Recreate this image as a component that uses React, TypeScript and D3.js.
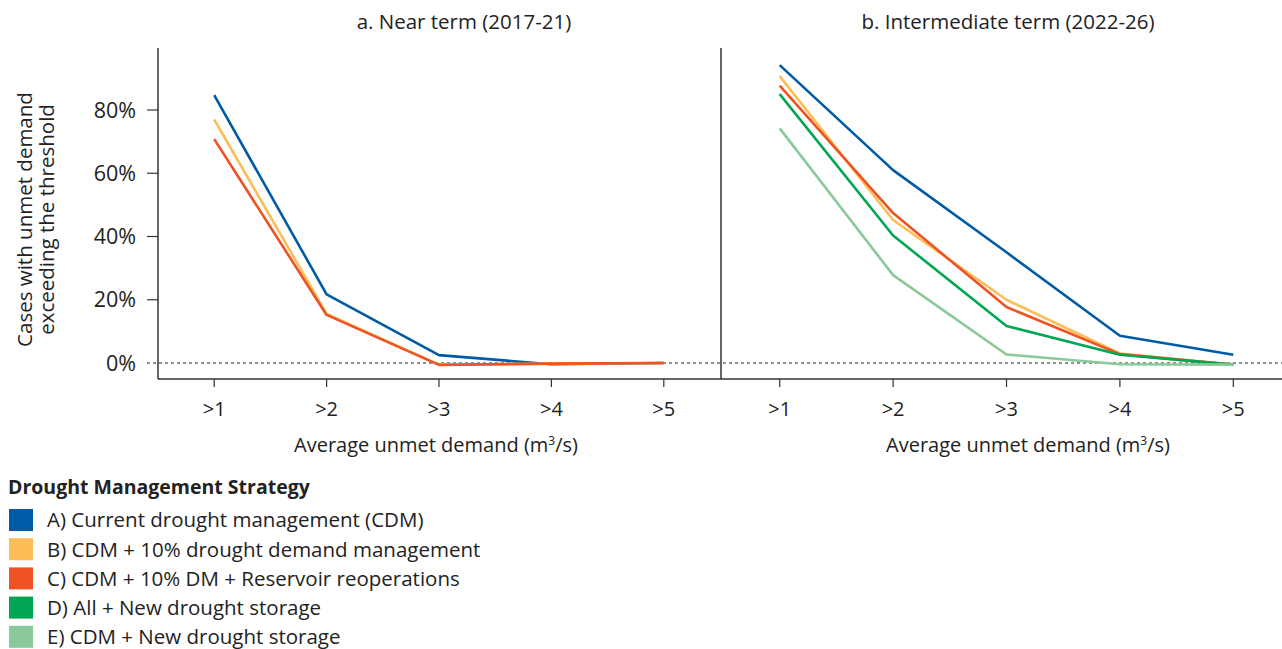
import React from 'react'
import * as d3 from 'd3'

const thresholds = ['>1', '>2', '>3', '>4', '>5']

// Near term (2017-21), % of cases
const nearA = [84.7, 21.7, 2.5, -0.4, 0]
const nearB = [77, 15.5, -0.5, -0.2, 0]
const nearC = [70.8, 15.2, -0.6, -0.2, 0]

// Intermediate term (2022-26)
const interA = [94.2, 61, 35, 8.6, 2.6]
const interB = [90.7, 45.2, 20, 3, -0.5]
const interC = [87.7, 47.4, 17.7, 2.8, -0.6]
const interD = [85, 40.3, 11.7, 2.6, -0.5]
const interE = [74.2, 27.8, 2.7, -0.4, -0.5]

const yTicks = [0, 20, 40, 60, 80]

const strategies = [
  'A) Current drought management (CDM)',
  'B) CDM + 10% drought demand management',
  'C) CDM + 10% DM + Reservoir reoperations',
  'D) All + New drought storage',
  'E) CDM + New drought storage',
]
const colors = ['#005ba6', '#fdbe57', '#ef5323', '#00a651', '#8ac999']

const W = 1282
const H = 649
const FONT = '"Open Sans", "Noto Sans", sans-serif'
const AX = '#333'
const TXT = '#222'

const y = d3.scaleLinear().domain([0, 80]).range([363, 110])
const axisY = 379

const panels = [
  {
    title: 'a. Near term (2017-21)',
    x0: 158, x1: 720, titleX: 464, axisTitleX: 436,
    x: d3.scalePoint().domain(thresholds).range([158, 720]).padding(0.5),
    series: [nearA, nearB, nearC],
  },
  {
    title: 'b. Intermediate term (2022-26)',
    x0: 721, x1: 1290, titleX: 1008, axisTitleX: 1028,
    x: d3.scalePoint().domain(thresholds).range([723, 1290]).padding(0.5),
    series: [interA, interB, interC, interD, interE],
  },
]

export default function App() {
  return (
    <svg width={W} height={H} style={{ position: 'absolute', left: 0, top: 0, background: '#fff' }}
      fontFamily={FONT}>
      {/* zero reference */}
      <line x1={147} x2={W} y1={y(0)} y2={y(0)} stroke="#222" strokeWidth={1.2} strokeDasharray="3,3" />

      {/* y ticks */}
      {yTicks.map(t => (
        <g key={t}>
          {t > 0 && <line x1={147} x2={158} y1={y(t)} y2={y(t)} stroke={AX} strokeWidth={1.2} />}
          <text x={136} y={y(t)} dy="0.36em" textAnchor="end" fontSize={21.5} fill={TXT}>{t}%</text>
        </g>
      ))}
      <text transform={`translate(32,${y(40) - 17}) rotate(-90)`} textAnchor="middle" fontSize={20.5} fill={TXT}>
        <tspan x={0} dy={0}>Cases with unmet demand</tspan>
        <tspan x={0} dy={22}>exceeding the threshold</tspan>
      </text>

      {/* bottom axis */}
      <line x1={158} x2={W} y1={axisY} y2={axisY} stroke={AX} strokeWidth={1.5} />

      {panels.map((p, pi) => {
        const line = d3.line<number>()
          .x((_, i) => p.x(thresholds[i]) as number)
          .y(d => y(d))
        return (
          <g key={pi}>
            <line x1={p.x0} x2={p.x0} y1={48} y2={axisY} stroke={AX} strokeWidth={1.5} />
            <text x={p.titleX} y={29} textAnchor="middle" fontSize={20.5} fill={TXT}>{p.title}</text>
            {thresholds.map(t => (
              <g key={t}>
                <line x1={p.x(t)} x2={p.x(t)} y1={axisY} y2={axisY + 8} stroke={AX} strokeWidth={1.2} />
                <text x={p.x(t)} y={416} textAnchor="middle" fontSize={20} fill={TXT}>{t}</text>
              </g>
            ))}
            <text x={p.axisTitleX} y={452} textAnchor="middle" fontSize={20} fill={TXT}>
              Average unmet demand (m<tspan dy={-7} fontSize={12}>3</tspan><tspan dy={7}>/s)</tspan>
            </text>
            {p.series.map((s, si) => (
              <path key={si} d={line(s) || ''} fill="none" stroke={colors[si]} strokeWidth={2.6}
                strokeLinejoin="round" />
            ))}
          </g>
        )
      })}

      {/* legend */}
      <text x={8} y={494} fontSize={19.5} fontWeight="bold" fill={TXT}>Drought Management Strategy</text>
      {strategies.map((s, i) => (
        <g key={s} transform={`translate(0,${520 + i * 29.2})`}>
          <rect x={9} y={-11} width={24} height={22} fill={colors[i]} />
          <text x={47} y={0} dy="0.36em" fontSize={20.5} fill={TXT}>{s}</text>
        </g>
      ))}
    </svg>
  )
}
